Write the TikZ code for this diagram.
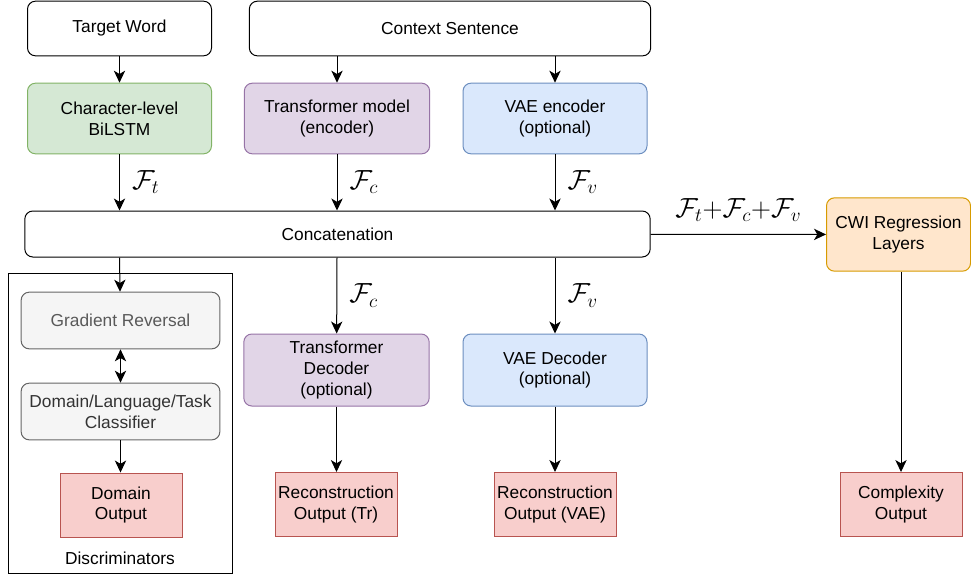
\documentclass[tikz,border=0pt]{standalone}
\usepackage{amsmath}
\usepackage{amssymb}
\usepackage{fontspec}
\setmainfont{Liberation Sans}
\usepackage{tikz}
\usetikzlibrary{shapes,positioning,calc,fit}
\usetikzlibrary{arrows.meta}
\definecolor{verdef}{HTML}{D5E8D4}\definecolor{verdeb}{HTML}{82B366}
\definecolor{violaf}{HTML}{E1D5E7}\definecolor{violab}{HTML}{9673A6}
\definecolor{bluf}{HTML}{DAE8FC}\definecolor{blub}{HTML}{6C8EBF}
\definecolor{arancf}{HTML}{FFE6CC}\definecolor{arancb}{HTML}{D79B00}
\definecolor{grigiof}{HTML}{F5F5F5}\definecolor{grigiob}{HTML}{666666}
\definecolor{rossof}{HTML}{F8CECC}\definecolor{rossob}{HTML}{B85450}
\tikzstyle{blocco} = [rectangle, rounded corners=6pt, draw=black, line width=0.75pt,
text centered, align=center, font=\fontsize{13}{15.5}\selectfont, inner sep=0pt]
\tikzstyle{uscita} = [rectangle, draw=rossob, fill=rossof, line width=0.75pt,
text centered, align=center, font=\fontsize{13}{15.5}\selectfont, inner sep=0pt,
minimum width=91.5pt, minimum height=48pt]
\tikzstyle{arrow} = [line width=0.75pt,-{Stealth[length=9pt,width=8.5pt,inset=2.5pt]}]
\tikzstyle{etich} = [font=\fontsize{22}{26}\selectfont, inner sep=0pt]

\begin{document}
\begin{tikzpicture}[x=0.75pt,y=-0.75pt]
\useasboundingbox (0,0) rectangle (971,576);
% input
\node (tw) at (119.5,28.5) [blocco, minimum width=138pt, minimum height=41pt] {Target Word};
\node (cs) at (450,28.5) [blocco, minimum width=301pt, minimum height=41pt] {Context Sentence};
% encoder
\node (bl) at (119.5,118.5) [blocco, draw=verdeb, fill=verdef, minimum width=138pt, minimum height=53pt] {Character-level\\BiLSTM};
\node (tm) at (337,118.5) [blocco, draw=violab, fill=violaf, minimum width=139pt, minimum height=53pt] {Transformer model\\(encoder)};
\node (ve) at (555,118.5) [blocco, draw=blub, fill=bluf, minimum width=138pt, minimum height=53pt] {VAE encoder\\(optional)};
\node (cc) at (337.5,234) [blocco, minimum width=469pt, minimum height=34.5pt] {Concatenation};
\node (cwi) at (898.5,234.5) [blocco, draw=arancb, fill=arancf, minimum width=108pt, minimum height=55pt] {CWI Regression\\Layers};
% discriminatori
\node (gr) at (120.5,320.5) [blocco, draw=grigiob, fill=grigiof, minimum width=149pt, minimum height=42.5pt, text=black!65] {Gradient Reversal};
\node (cl) at (120.5,411.5) [blocco, draw=grigiob, fill=grigiof, minimum width=149pt, minimum height=42.5pt, text=black!80] {Domain/Language/Task\\Classifier};
\node (do) at (121,505) [uscita] {Domain\\Output};
\node (disc) at (120,558) [font=\fontsize{13}{15.5}\selectfont] {Discriminators};
\node (box) [draw, line width=0.75pt, fit={(8,273) (232,573)}, inner sep=0pt] {};
% decoder
\node (td) at (336.5,370) [blocco, draw=violab, fill=violaf, minimum width=139pt, minimum height=54pt] {Transformer\\Decoder\\(optional)};
\node (vd) at (555,370) [blocco, draw=blub, fill=bluf, minimum width=138pt, minimum height=54pt] {VAE Decoder\\(optional)};
\node (rt) at (336,504.5) [uscita] {Reconstruction\\Output (Tr)};
\node (rv) at (555,504.5) [uscita] {Reconstruction\\Output (VAE)};
\node (co) at (901,504.5) [uscita] {Complexity\\Output};
% frecce
\draw [arrow] (tw) -- (bl);
\draw [arrow] (cs.south -| tm) -- (tm);
\draw [arrow] (cs.south -| ve) -- (ve);
\draw [arrow] (bl) -- node[etich, right=9pt] {$\mathcal{F}_t$} (bl |- cc.north);
\draw [arrow] (tm) -- node[etich, right=9pt] {$\mathcal{F}_c$} (tm |- cc.north);
\draw [arrow] (ve) -- node[etich, right=9pt] {$\mathcal{F}_v$} (ve |- cc.north);
\draw [arrow] (cc) -- node[etich, above=9pt] {$\mathcal{F}_t{+}\mathcal{F}_c{+}\mathcal{F}_v$} (cwi);
\draw [arrow] (bl |- cc.south) -- (gr);
\draw [line width=0.75pt, {Stealth[length=9pt,width=8.5pt,inset=2.5pt]}-{Stealth[length=9pt,width=8.5pt,inset=2.5pt]}] (gr) -- (cl);
\draw [arrow] (cl) -- (cl |- do.north);
\draw [arrow] (tm |- cc.south) -- node[etich, right=9pt] {$\mathcal{F}_c$} (td);
\draw [arrow] (ve |- cc.south) -- node[etich, right=9pt] {$\mathcal{F}_v$} (vd);
\draw [arrow] (td) -- (td |- rt.north);
\draw [arrow] (vd) -- (rv);
\draw [arrow] (cwi.south -| co) -- (co);
\end{tikzpicture}
\end{document}
